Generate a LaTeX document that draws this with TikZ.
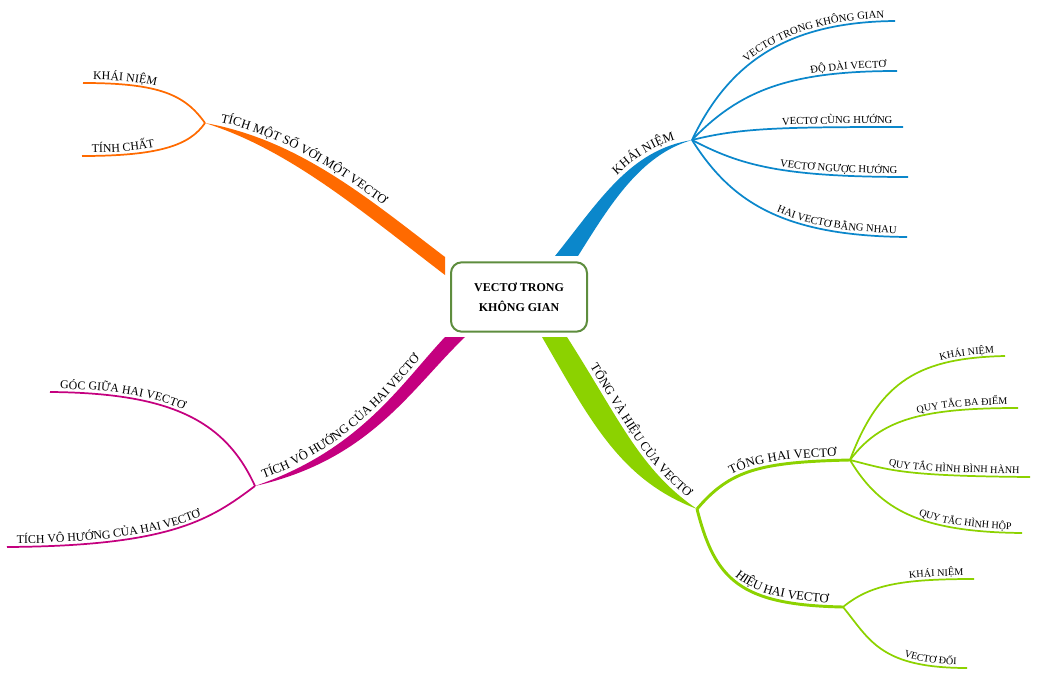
\documentclass[tikz,border=0pt]{standalone}
\usepackage{fontspec}
\setmainfont{Liberation Serif}
\usetikzlibrary{decorations.text}
\definecolor{knblue}{HTML}{0B87CB}
\definecolor{tsorange}{HTML}{FF6A00}
\definecolor{tvhmagenta}{HTML}{C4007F}
\definecolor{thgreen}{HTML}{8CD200}
\definecolor{boxgreen}{HTML}{5E8D3E}
\newcommand{\branchfont}{\fontsize{9.5}{11}\selectfont}
\newcommand{\leaffont}{\fontsize{8}{9}\selectfont}
\newcommand{\sideleaffont}{\fontsize{8.9}{10}\selectfont}
\newcommand{\smallleaffont}{\fontsize{7.6}{8}\selectfont}
\tikzset{
  rootbox/.style={draw=boxgreen, line width=1.5pt, rounded corners=8pt, fill=white,
    minimum width=102pt, minimum height=52pt, align=center,
    font=\bfseries\fontsize{9}{15}\selectfont},
  twig/.style={line width=2.2pt},
  leaf/.style={line width=1.3pt},
  % text riding on a path, flush right or flush left
  rtext/.style={postaction={decorate}, decoration={text along path, raise=2.5pt,
    text align={right, right indent=8pt}, text={#1}}},
  ltext/.style={postaction={decorate}, decoration={text along path, raise=2.5pt,
    text align={left, left indent=7.5pt}, text={#1}}}
}

\begin{document}
\begin{tikzpicture}[x=0.75pt, y=-0.75pt]
  \useasboundingbox (0,0) rectangle (1038,677);

  % Centre
  \node[rootbox] (root) at (519,297) {VECTƠ TRONG\\KHÔNG GIAN};

  % Khai niem (blue)
  \coordinate (kn-a) at (555,256);
  \coordinate (kn-b) at (578,256);
  \coordinate (kn) at (692,140);
  \fill[knblue] (kn-a) .. controls (600,200) and (630,150) .. (kn)
    .. controls (640,155) and (610,205) .. (kn-b) -- cycle;
  \path[decorate, decoration={text along path, raise=3pt,
    text align={right, right indent=12pt}, text={|\branchfont|KHÁI NIỆM}}]
    (kn-a) .. controls (600,200) and (630,150) .. (kn);

  \coordinate (kn-1) at (895,21);
  \coordinate (kn-2) at (897,71);
  \coordinate (kn-3) at (903,127);
  \coordinate (kn-4) at (908,177);
  \coordinate (kn-5) at (907,237);
  \draw[leaf, knblue, rtext={|\leaffont|VECTƠ TRONG KHÔNG GIAN}]
    (kn) .. controls (730,60) and (790,22) .. (kn-1);
  \draw[leaf, knblue, rtext={|\leaffont|ĐỘ DÀI VECTƠ}]
    (kn) .. controls (740,90) and (790,71) .. (kn-2);
  \draw[leaf, knblue, rtext={|\leaffont|VECTƠ CÙNG HƯỚNG}]
    (kn) .. controls (740,128) and (780,127) .. (kn-3);
  \draw[leaf, knblue, rtext={|\leaffont|VECTƠ NGƯỢC HƯỚNG}]
    (kn) .. controls (740,165) and (780,177) .. (kn-4);
  \draw[leaf, knblue, rtext={|\leaffont|HAI VECTƠ BẰNG NHAU}]
    (kn) .. controls (730,200) and (780,236) .. (kn-5);

  % Tich mot so voi mot vecto (orange)
  \coordinate (ts-a) at (445,257);
  \coordinate (ts-b) at (445,275);
  \coordinate (ts) at (205,123);
  \fill[tsorange] (ts-a) .. controls (370,200) and (300,140) .. (ts)
    .. controls (290,150) and (360,210) .. (ts-b) -- cycle;
  \path[decorate, decoration={text along path, raise=3pt,
    text align={left, left indent=11pt}, text={|\branchfont|TÍCH MỘT SỐ VỚI MỘT VECTƠ}}]
    (ts) .. controls (300,140) and (370,200) .. (ts-a);

  \coordinate (ts-1) at (83,83);
  \coordinate (ts-2) at (82,156);
  \draw[leaf, tsorange, ltext={|\sideleaffont|KHÁI NIỆM}]
    (ts-1) .. controls (160,83) and (185,95) .. (ts);
  \draw[leaf, tsorange, ltext={|\sideleaffont|TÍNH CHẤT}]
    (ts-2) .. controls (160,156) and (190,145) .. (ts);

  % Tich vo huong (magenta)
  \coordinate (tvh-a) at (445,337);
  \coordinate (tvh-b) at (465,337);
  \coordinate (tvh) at (255,486);
  \fill[tvhmagenta] (tvh-a) .. controls (400,385) and (360,450) .. (tvh)
    .. controls (370,460) and (410,390) .. (tvh-b) -- cycle;
  \path[decorate, decoration={text along path, raise=3pt,
    text align={left, left indent=8pt}, text={|\branchfont|TÍCH VÔ HƯỚNG CỦA HAI VECTƠ}}]
    (tvh) .. controls (360,450) and (400,385) .. (tvh-a);

  \coordinate (tvh-1) at (50,392);
  \coordinate (tvh-2) at (7,547);
  \draw[leaf, tvhmagenta, ltext={|\sideleaffont|GÓC GIỮA HAI VECTƠ}]
    (tvh-1) .. controls (170,393) and (225,420) .. (tvh);
  \draw[leaf, tvhmagenta, ltext={|\sideleaffont|TÍCH VÔ HƯỚNG CỦA HAI VECTƠ}]
    (tvh-2) .. controls (170,546) and (210,520) .. (tvh);

  % Tong va hieu (green)
  \coordinate (th-a) at (542,337);
  \coordinate (th-b) at (567,337);
  \coordinate (th) at (697,509);
  \fill[thgreen] (th-a) .. controls (590,420) and (620,480) .. (th)
    .. controls (640,470) and (620,420) .. (th-b) -- cycle;
  \path[decorate, decoration={text along path, raise=3pt,
    text align={right, right indent=11pt}, text={|\branchfont|TỔNG VÀ HIỆU CỦA VECTƠ}}]
    (th-b) .. controls (620,420) and (640,470) .. (th);

  \coordinate (tong) at (850,460);
  \coordinate (hieu) at (843,607);
  \draw[twig, thgreen, postaction={decorate}, decoration={text along path, raise=3pt,
    text align={right, right indent=10pt}, text={|\branchfont|TỔNG HAI VECTƠ}}]
    (th) .. controls (730,470) and (760,462) .. (tong);
  \draw[twig, thgreen, postaction={decorate}, decoration={text along path, raise=3pt,
    text align={right, right indent=11pt}, text={|\branchfont|HIỆU HAI VECTƠ}}]
    (th) .. controls (715,580) and (740,605) .. (hieu);

  \coordinate (tong-1) at (1005,356);
  \coordinate (tong-2) at (1018,408);
  \coordinate (tong-3) at (1030,477);
  \coordinate (tong-4) at (1022,533);
  \draw[leaf, thgreen, rtext={|\smallleaffont|KHÁI NIỆM}]
    (tong) .. controls (880,380) and (920,358) .. (tong-1);
  \draw[leaf, thgreen, rtext={|\smallleaffont|QUY TẮC BA ĐIỂM}]
    (tong) .. controls (880,420) and (920,408) .. (tong-2);
  \draw[leaf, thgreen, rtext={|\smallleaffont|QUY TẮC HÌNH BÌNH HÀNH}]
    (tong) .. controls (890,470) and (900,476) .. (tong-3);
  \draw[leaf, thgreen, rtext={|\smallleaffont|QUY TẮC HÌNH HỘP}]
    (tong) .. controls (880,510) and (920,532) .. (tong-4);

  \coordinate (hieu-1) at (974,579);
  \coordinate (hieu-2) at (967,668);
  \draw[leaf, thgreen, rtext={|\smallleaffont|KHÁI NIỆM}]
    (hieu) .. controls (870,585) and (900,579) .. (hieu-1);
  \draw[leaf, thgreen, rtext={|\smallleaffont|VECTƠ ĐỐI}]
    (hieu) .. controls (870,640) and (880,668) .. (hieu-2);

\end{tikzpicture}
\end{document}
